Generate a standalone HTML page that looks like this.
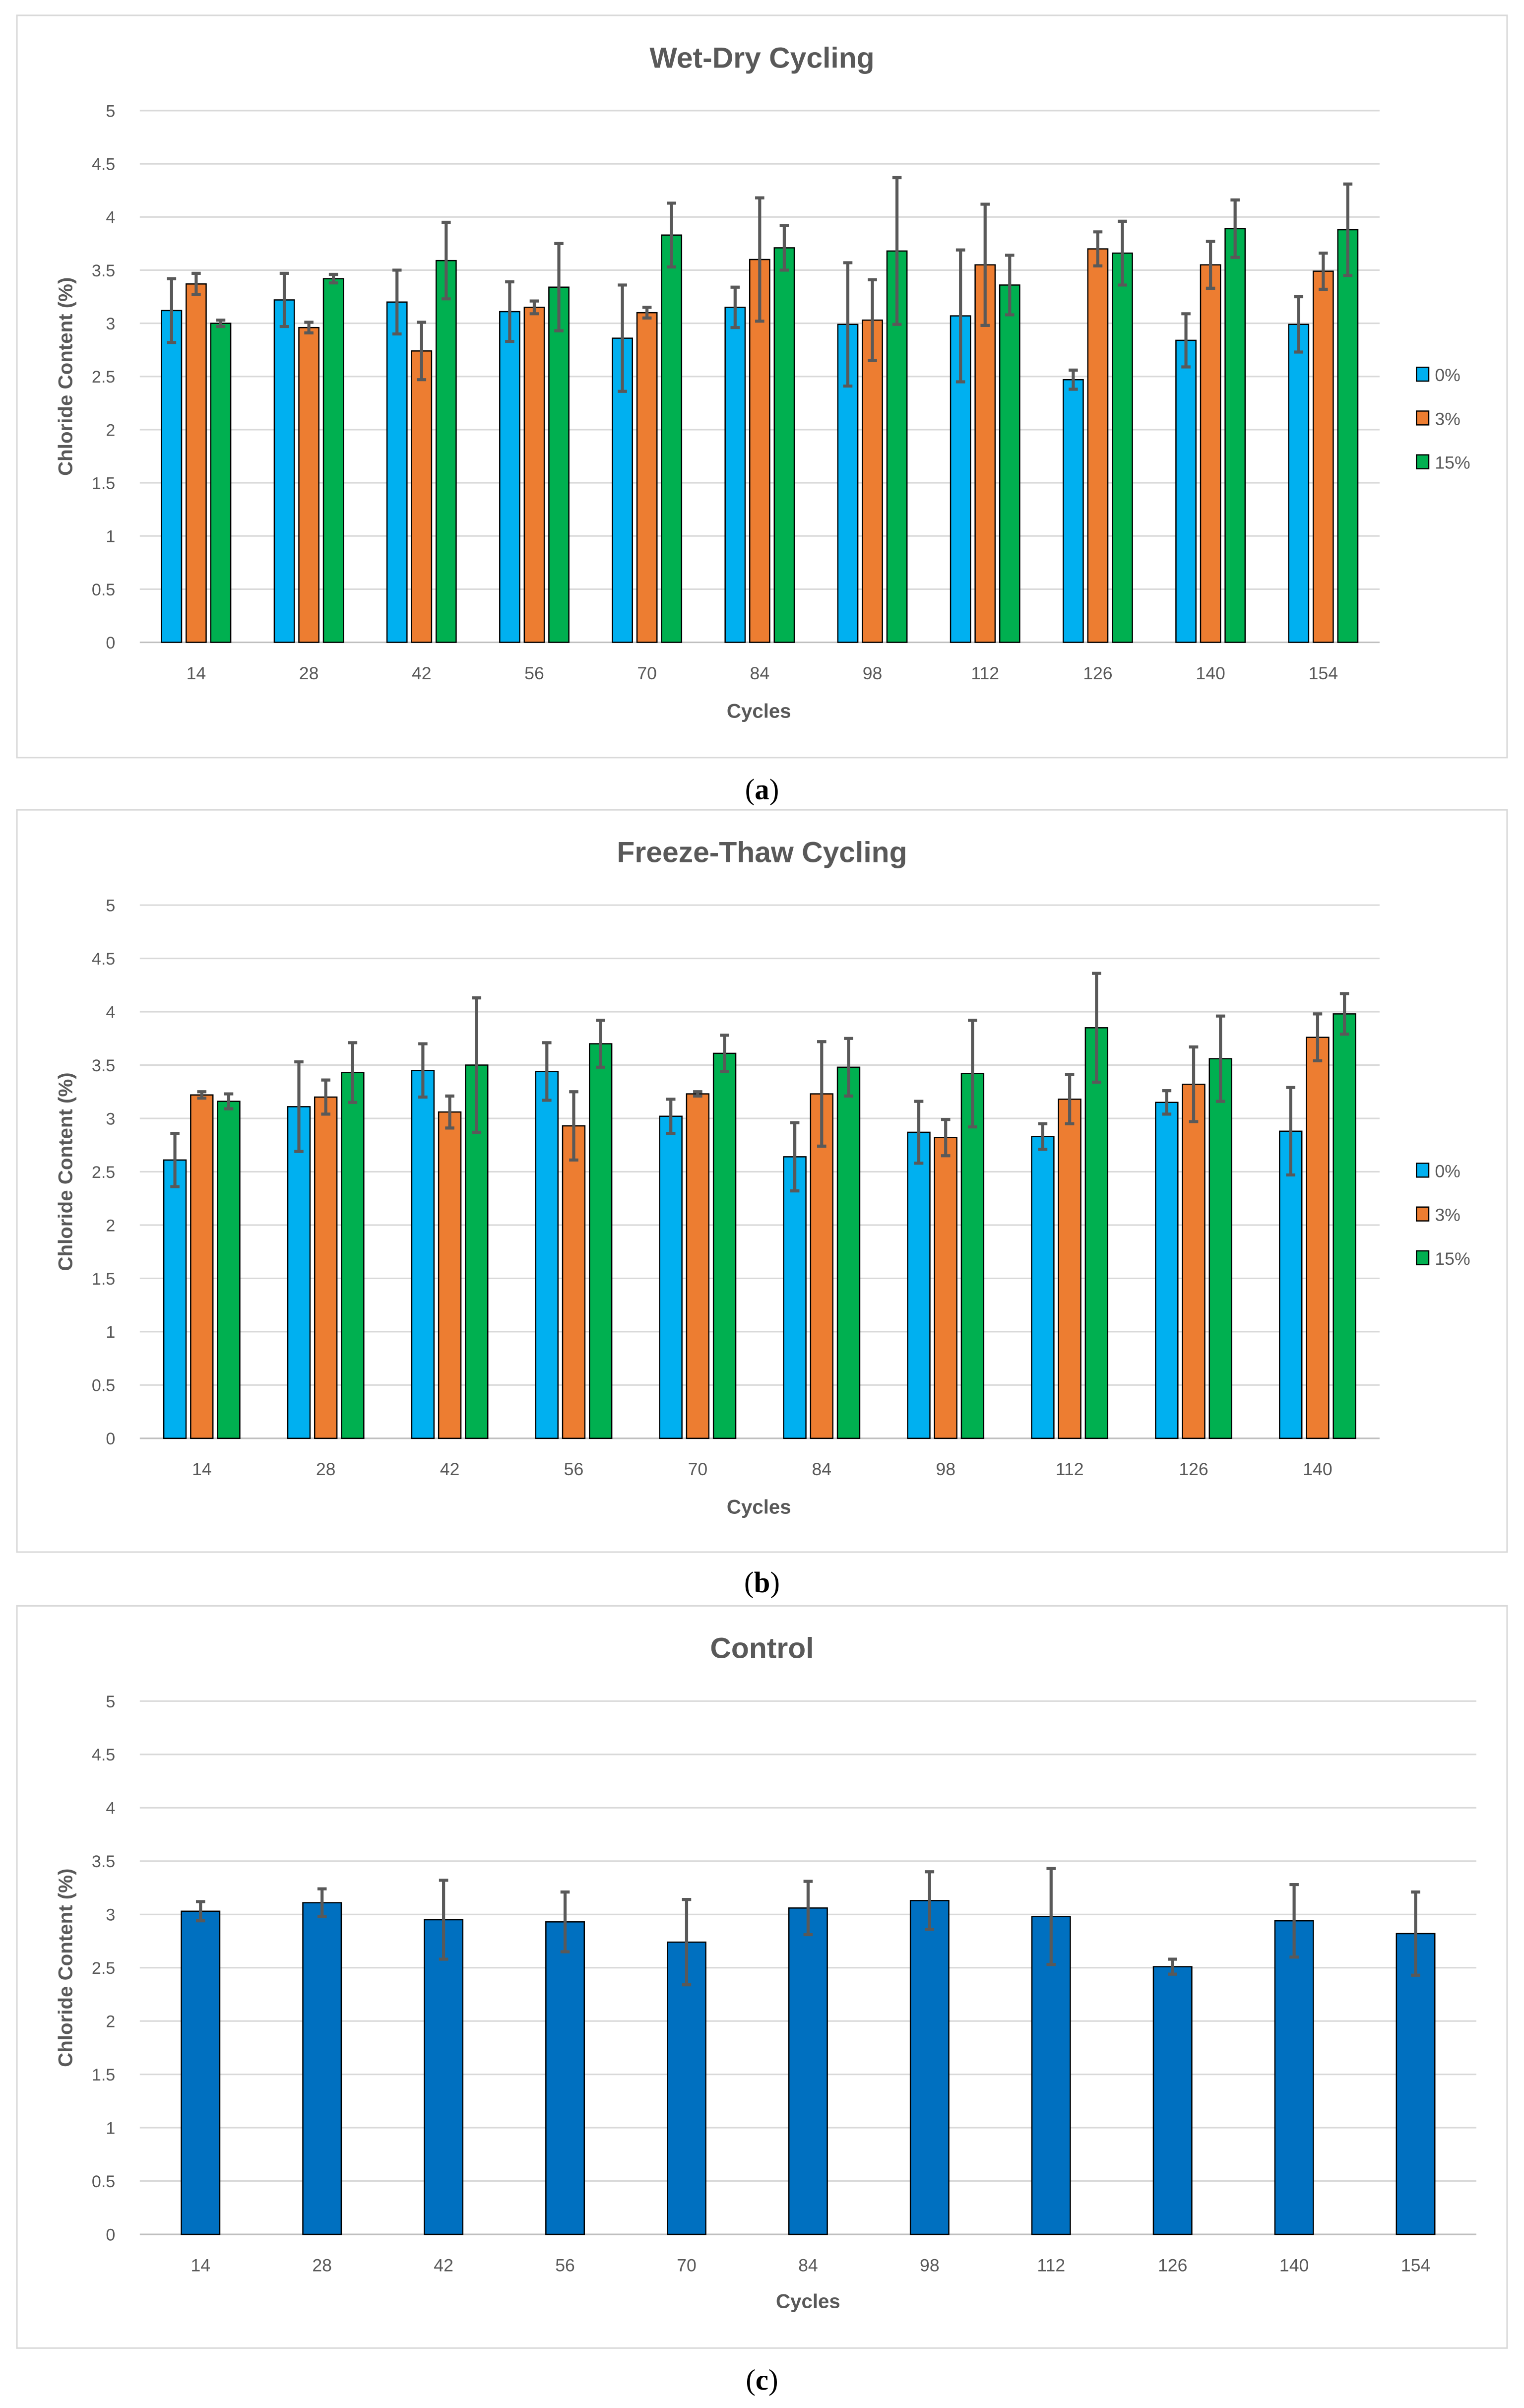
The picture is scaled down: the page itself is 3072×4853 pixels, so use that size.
<!DOCTYPE html>
<html><head><meta charset="utf-8"><style>
html,body{margin:0;padding:0;background:#fff}
svg{display:block}
text{font-family:"Liberation Sans",sans-serif;fill:#595959}
</style></head><body>
<svg id="fig" width="3072" height="4853" viewBox="0 0 992 1567" preserveAspectRatio="none" xmlns="http://www.w3.org/2000/svg"></svg>
<script>
const ticks=[0,0.5,1,1.5,2,2.5,3,3.5,4,4.5,5];
const tickLabels=["0","0.5","1","1.5","2","2.5","3","3.5","4","4.5","5"];
const catsA=["14","28","42","56","70","84","98","112","126","140","154"];
const a0=[3.12,3.22,3.2,3.11,2.86,3.15,2.99,3.07,2.47,2.84,2.99];
const a0e=[0.3,0.25,0.3,0.28,0.5,0.19,0.58,0.62,0.09,0.25,0.26];
const a3=[3.37,2.96,2.74,3.15,3.1,3.6,3.03,3.55,3.7,3.55,3.49];
const a3e=[0.1,0.05,0.27,0.06,0.05,0.58,0.38,0.57,0.16,0.22,0.17];
const a15=[3.0,3.42,3.59,3.34,3.83,3.71,3.68,3.36,3.66,3.89,3.88];
const a15e=[0.03,0.04,0.36,0.41,0.3,0.21,0.69,0.28,0.3,0.27,0.43];
const catsB=["14","28","42","56","70","84","98","112","126","140"];
const b0=[2.61,3.11,3.45,3.44,3.02,2.64,2.87,2.83,3.15,2.88];
const b0e=[0.25,0.42,0.25,0.27,0.16,0.32,0.29,0.12,0.11,0.41];
const b3=[3.22,3.2,3.06,2.93,3.23,3.23,2.82,3.18,3.32,3.76];
const b3e=[0.03,0.16,0.15,0.32,0.02,0.49,0.17,0.23,0.35,0.22];
const b15=[3.16,3.43,3.5,3.7,3.61,3.48,3.42,3.85,3.56,3.98];
const b15e=[0.07,0.28,0.63,0.22,0.17,0.27,0.5,0.51,0.4,0.19];
const catsC=["14","28","42","56","70","84","98","112","126","140","154"];
const c0=[3.03,3.11,2.95,2.93,2.74,3.06,3.13,2.98,2.51,2.94,2.82];
const c0e=[0.09,0.13,0.37,0.28,0.4,0.25,0.27,0.45,0.07,0.34,0.39];
const seriesNames=["0%","3%","15%"];
const colors=["#00B0F0","#ED7D31","#00B050"];

const NS="http://www.w3.org/2000/svg";
const svg=document.getElementById('fig');
function mk(tag,attrs,parent,txt){const e=document.createElementNS(NS,tag);for(const k in attrs)e.setAttribute(k,attrs[k]);if(txt!==undefined)e.textContent=txt;(parent||svg).appendChild(e);return e;}

function chart(o){
  const g=mk('g',{});
  
  
  const fr=mk('rect',{x:11,y:o.top,width:970,height:483,fill:'#fff',stroke:'#d9d9d9','stroke-width':1},g);
  
  
  const yS=v=>o.y0-(o.y0-o.y5)*v/5;
  const n=o.cats.length, step=(o.xR-o.xL)/n;
  const xC=i=>o.xL+step*(i+0.5);
  ticks.forEach((t,i)=>{
    const gl=mk('line',{x1:o.xL,x2:o.xR,y1:yS(t),y2:yS(t),stroke:i===0?'#bfbfbf':'#d9d9d9','stroke-width':1},g);
    
    
    const tl=mk('text',{x:o.xL-16,y:yS(t)+4,'text-anchor':'end','font-size':11},g,tickLabels[i]);
    
    
  });
  o.cats.forEach((c,i)=>{
    const t=mk('text',{x:xC(i),y:o.y0+24,'text-anchor':'middle','font-size':11.5},g,c);
    
    
  });
  const ns=o.series.length, bw=o.bw, gap=o.gap, gw=ns*bw+(ns-1)*gap;
  o.series.forEach((s,si)=>{
    s.vals.forEach((v,i)=>{
      const x=xC(i)-gw/2+si*(bw+gap);
      const r=mk('rect',{x:x,y:yS(v),width:bw,height:yS(0)-yS(v),fill:s.color,stroke:'#000','stroke-width':0.8},g);
      
      
      const cx=x+bw/2, e=s.err[i];
      const eb=mk('path',{d:`M${cx},${yS(v+e)}V${yS(v-e)}M${cx-3},${yS(v+e)}H${cx+3}M${cx-3},${yS(v-e)}H${cx+3}`,stroke:'#595959','stroke-width':2,fill:'none'},g);
      
      
    });
  });
  const ti=mk('text',{x:496,y:o.top+34,'text-anchor':'middle','font-size':19,'font-weight':'bold'},g,o.title);
  
  
  const xt=mk('text',{x:o.xTitleX,y:o.top+o.xTitleDy,'text-anchor':'middle','font-size':13,'font-weight':'bold'},g,'Cycles');
  
  
  const yc=(o.y0+o.y5)/2;
  const yt=mk('text',{x:47,y:yc,'text-anchor':'middle','font-size':13,'font-weight':'bold',transform:`rotate(-90 47 ${yc})`},g,'Chloride Content (%)');
  
  
  if(o.legend){
    o.series.forEach((s,si)=>{
      const ly=o.legendY+si*28.5;
      const lr=mk('rect',{x:922,y:ly-5,width:8,height:9,fill:s.color,stroke:'#000','stroke-width':0.8},g);
      
      
      const lt=mk('text',{x:934,y:ly+4,'font-size':11.5},g,seriesNames[si]);
      
      
    });
  }
  const cap=mk('text',{x:496,y:o.top+o.capDy,'text-anchor':'middle','font-size':19,'font-family':'Liberation Serif',style:'fill:#000;font-family:"Liberation Serif",serif'},g);
  
  
  cap.innerHTML='(<tspan font-weight="bold">'+o.cap+'</tspan>)';
}
chart({name:'chart-wet-dry',top:10,title:'Wet-Dry Cycling',cats:catsA,xL:91,xR:898,y0:418,y5:72,bw:13,gap:3,
  series:[{key:'0pct',vals:a0,err:a0e,color:colors[0]},{key:'3pct',vals:a3,err:a3e,color:colors[1]},{key:'15pct',vals:a15,err:a15e,color:colors[2]}],
  legend:true,legendY:244,xTitleX:494,xTitleDy:457,capDy:510,cap:'a'});
chart({name:'chart-freeze-thaw',top:527,title:'Freeze-Thaw Cycling',cats:catsB,xL:91,xR:898,y0:936,y5:589,bw:14.5,gap:3,
  series:[{key:'0pct',vals:b0,err:b0e,color:colors[0]},{key:'3pct',vals:b3,err:b3e,color:colors[1]},{key:'15pct',vals:b15,err:b15e,color:colors[2]}],
  legend:true,legendY:762,xTitleX:494,xTitleDy:458,capDy:509,cap:'b'});
chart({name:'chart-control',top:1045,title:'Control',cats:catsC,xL:91,xR:961,y0:1454,y5:1107,bw:25,gap:0,
  series:[{key:'control',vals:c0,err:c0e,color:'#0070C0'}],
  legend:false,xTitleX:526,xTitleDy:457,capDy:510,cap:'c'});
</script>
</body></html>
